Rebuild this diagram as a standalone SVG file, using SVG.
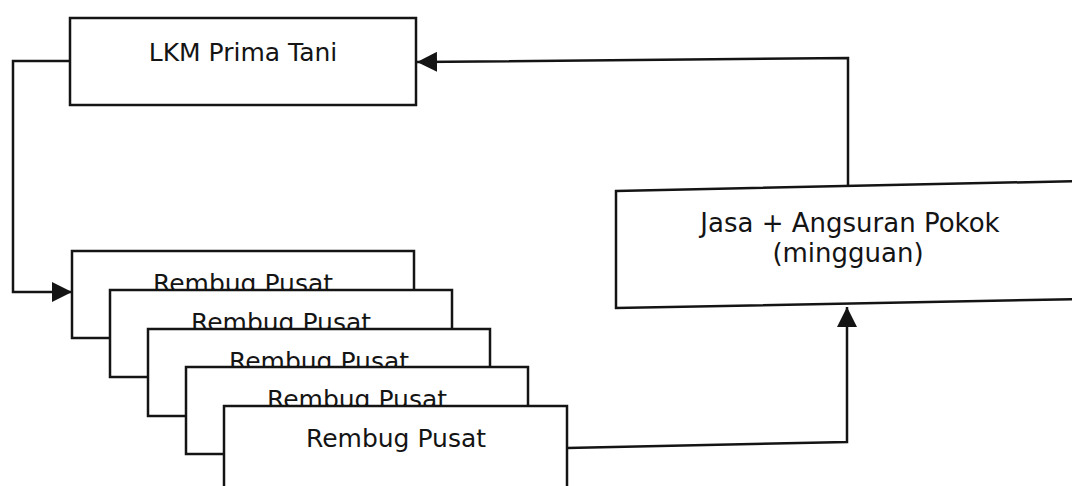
<svg xmlns="http://www.w3.org/2000/svg" width="1072" height="486" viewBox="0 0 1072 486">
  <style>
    .box { fill: #ffffff; stroke: #141414; stroke-width: 2.5; }
    .lbl { font-family: "DejaVu Sans", Verdana, sans-serif; font-size: 25px; fill: #141414; text-anchor: middle; }
    .con { fill: none; stroke: #141414; stroke-width: 2.5; stroke-linejoin: miter; }
  </style>
  <defs>
    <marker id="arr" markerUnits="userSpaceOnUse" markerWidth="20" markerHeight="20" refX="18" refY="9" orient="auto" viewBox="0 0 18 18">
      <path d="M0,0 L18,9 L0,18 Z" fill="#141414"/>
    </marker>
  </defs>
  <rect width="1072" height="486" fill="#ffffff"/>

  <g id="lkm">
    <rect class="box" x="70" y="18" width="346" height="87"/>
    <text class="lbl" x="243" y="61">LKM Prima Tani</text>
  </g>

  <g id="jasa">
    <path class="box" d="M616,191 L1080,181 L1080,299 L616,308 Z"/>
    <text class="lbl" x="850" y="232" style="font-size:26px">Jasa + Angsuran Pokok</text>
    <text class="lbl" x="848" y="262" style="font-size:26px">(mingguan)</text>
  </g>

  <g id="rembug1">
    <rect class="box" x="72" y="251" width="342" height="87"/>
    <text class="lbl" x="243" y="292">Rembug Pusat</text>
  </g>
  <g id="rembug2">
    <rect class="box" x="110" y="290" width="342" height="87"/>
    <text class="lbl" x="281" y="331">Rembug Pusat</text>
  </g>
  <g id="rembug3">
    <rect class="box" x="148" y="329" width="342" height="87"/>
    <text class="lbl" x="319" y="370">Rembug Pusat</text>
  </g>
  <g id="rembug4">
    <rect class="box" x="186" y="367" width="342" height="87"/>
    <text class="lbl" x="357" y="408">Rembug Pusat</text>
  </g>
  <g id="rembug5">
    <rect class="box" x="224" y="406" width="343" height="90"/>
    <text class="lbl" x="396" y="447">Rembug Pusat</text>
  </g>

  <g id="connectors">
    <polyline class="con" points="70,61 13,61 13,292 72,292" marker-end="url(#arr)"/>
    <polyline class="con" points="567,448 847,442 847,307" marker-end="url(#arr)"/>
    <polyline class="con" points="848,186 848,58 417,62" marker-end="url(#arr)"/>
  </g>
</svg>
